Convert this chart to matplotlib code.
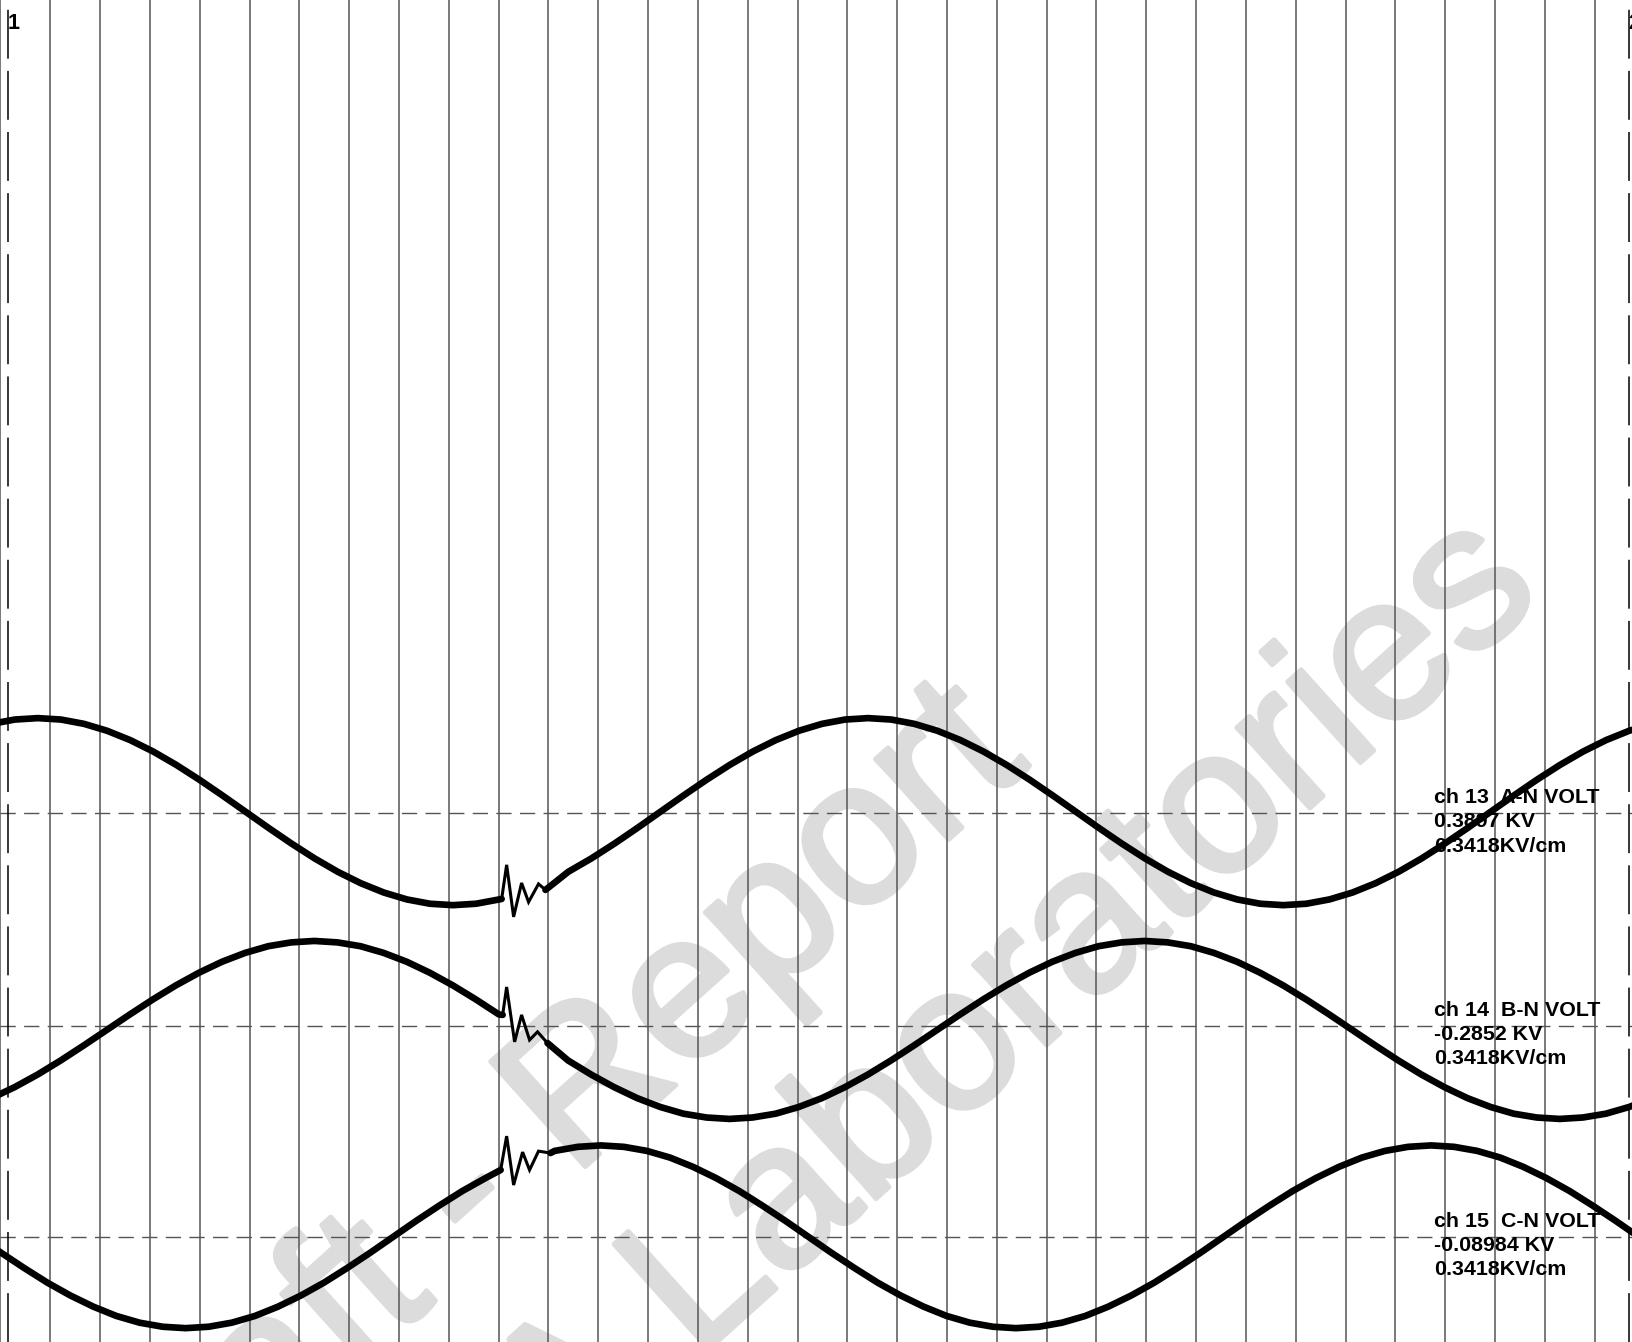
import numpy as np
import matplotlib
matplotlib.use("Agg")
import matplotlib.pyplot as plt
import matplotlib.patheffects as pe

# ---------------- data ----------------
period_ms = 16.667            # 60 Hz
step_ms = period_ms / 36      # one sample every 10 degrees

ch_names = ["ch 13  A-N VOLT", "ch 14  B-N VOLT", "ch 15  C-N VOLT"]
ch_values = ["0.3897 KV", "-0.2852 KV", "-0.08984 KV"]
ch_scales = ["0.3418KV/cm", "0.3418KV/cm", "0.3418KV/cm"]
baselines_kv = [0.0, -0.890, -1.775]

cursor_t = [0.147, 32.68]
cursor_labels = ["1", "2"]

# smooth parts (kV), sampled every step_ms starting at first_t
a_first_t = -0.176
a_vals = [0.375, 0.393, 0.399, 0.393, 0.375, 0.346, 0.307, 0.259, 0.203, 0.141,
          0.075, 0.007, -0.061, -0.127, -0.189, -0.245, -0.293, -0.332, -0.361, -0.379,
          -0.385, -0.379, -0.361, -0.332, -0.293, -0.245, -0.189, -0.127, -0.061, 0.007,
          0.075, 0.141, 0.203, 0.259, 0.307, 0.346, 0.375, 0.393, 0.399, 0.393,
          0.375, 0.346, 0.307, 0.259, 0.203, 0.141, 0.075, 0.007, -0.061, -0.127,
          -0.189, -0.245, -0.293, -0.332, -0.361, -0.379, -0.385, -0.379, -0.361, -0.332,
          -0.293, -0.245, -0.189, -0.127, -0.061, 0.007, 0.075, 0.141, 0.203, 0.259,
          0.307, 0.346, 0.375]

b_first_t = -0.181
b_vals = [-1.194, -1.148, -1.095, -1.036, -0.973, -0.908, -0.843, -0.780, -0.721, -0.668,
          -0.622, -0.585, -0.557, -0.541, -0.535, -0.541, -0.557, -0.585, -0.622, -0.668,
          -0.721, -0.780, -0.843, -0.908, -0.973, -1.036, -1.095, -1.148, -1.194, -1.231,
          -1.259, -1.275, -1.281, -1.275, -1.259, -1.231, -1.194, -1.148, -1.095, -1.036,
          -0.973, -0.908, -0.843, -0.780, -0.721, -0.668, -0.622, -0.585, -0.557, -0.541,
          -0.535, -0.541, -0.557, -0.585, -0.622, -0.668, -0.721, -0.780, -0.843, -0.908,
          -0.973, -1.036, -1.095, -1.148, -1.194, -1.231, -1.259, -1.275, -1.281, -1.275,
          -1.259, -1.231, -1.194]

c_first_t = -0.450
c_vals = [-1.775, -1.842, -1.906, -1.967, -2.021, -2.068, -2.107, -2.135, -2.152, -2.158,
          -2.152, -2.135, -2.107, -2.068, -2.021, -1.967, -1.906, -1.842, -1.775, -1.708,
          -1.644, -1.583, -1.529, -1.482, -1.443, -1.415, -1.398, -1.392, -1.398, -1.415,
          -1.443, -1.482, -1.529, -1.583, -1.644, -1.708, -1.775, -1.842, -1.906, -1.967,
          -2.021, -2.068, -2.107, -2.135, -2.152, -2.158, -2.152, -2.135, -2.107, -2.068,
          -2.021, -1.967, -1.906, -1.842, -1.775, -1.708, -1.644, -1.583, -1.529, -1.482,
          -1.443, -1.415, -1.398, -1.392, -1.398, -1.415, -1.443, -1.482, -1.529, -1.583,
          -1.644, -1.708, -1.775]

# switching transient (ms, kV)
a_tr_t = [10.06, 10.16, 10.30, 10.46, 10.60, 10.80, 10.94]
a_tr_v = [-0.359, -0.216, -0.434, -0.292, -0.372, -0.296, -0.321]
b_tr_t = [10.08, 10.16, 10.32, 10.46, 10.62, 10.78, 10.98]
b_tr_v = [-0.845, -0.728, -0.958, -0.845, -0.950, -0.916, -0.963]
c_tr_t = [10.04, 10.16, 10.30, 10.48, 10.62, 10.80, 11.04]
c_tr_v = [-1.495, -1.353, -1.558, -1.420, -1.495, -1.416, -1.424]

watermark_lines = ["Draft - Report", "A Laboratories"]

# ---------------- figure ----------------
fig = plt.figure(figsize=(16.32, 13.42), dpi=100)
ax = fig.add_axes([0, 0, 1, 1])
ax.set_xlim(-0.01, 32.75)
ax.set_ylim(-2.216, 3.409)
for s in ax.spines.values():
    s.set_visible(False)
ax.set_xticks(np.arange(0, 33, 1))
ax.set_yticks([])
ax.tick_params(length=0, labelbottom=False, labelleft=False)
ax.set_axisbelow(True)
ax.grid(axis="x", color="#555555", linewidth=1.1)

# watermark
wm_pos = [(0.632, 0.430), (0.947, 0.556)]
for txt, (px, py) in zip(watermark_lines, wm_pos):
    ax.text(px, py, txt, transform=ax.transAxes, rotation=42, rotation_mode="anchor",
            ha="right", va="baseline", fontsize=148, color="#dcdcdc",
            family="Liberation Sans", zorder=0.1,
            path_effects=[pe.withStroke(linewidth=3.5, foreground="#dcdcdc")])

# channel zero lines
for b in baselines_kv:
    ax.axhline(b, color="#555555", linewidth=1.0, linestyle=(0, (11, 6)), zorder=1)

# cursors
for ct, lab in zip(cursor_t, cursor_labels):
    ax.axvline(ct, color="black", linewidth=1.1, linestyle=(0, (32, 8)), zorder=1.5)
    ax.annotate(lab, xy=(ct, 1), xycoords=("data", "axes fraction"),
                xytext=(-0.5, -29), textcoords="offset pixels",
                ha="left", va="baseline", fontsize=15.5, fontweight="bold",
                family="Liberation Sans", zorder=3)

# channel labels
for b, n, v, sc in zip(baselines_kv, ch_names, ch_values, ch_scales):
    for txt, dy in zip([n, v, sc], [10, -14, -38.5]):
        ax.annotate(txt, xy=(28.77, b), xytext=(0, dy), textcoords="offset pixels",
                    ha="left", va="baseline", fontsize=15.4, fontweight="bold",
                    family="Liberation Sans", zorder=2)

# traces
thick = 4.8
thin = 2.2
for first_t, vals, tr_t, tr_v in [(a_first_t, a_vals, a_tr_t, a_tr_v),
                                   (b_first_t, b_vals, b_tr_t, b_tr_v),
                                   (c_first_t, c_vals, c_tr_t, c_tr_v)]:
    t = first_t + np.arange(len(vals)) * step_ms
    v = np.array(vals)
    tr_t = np.array(tr_t)
    tr_v = np.array(tr_v)
    pre = t < tr_t[0] - 0.02
    post = t > tr_t[-1] + 0.05
    ax.plot(np.append(t[pre], tr_t[0]), np.append(v[pre], tr_v[0]),
            color="black", linewidth=thick, solid_joinstyle="round",
            solid_capstyle="round", zorder=4)
    ax.plot(tr_t, tr_v, color="black", linewidth=thin, solid_joinstyle="miter",
            zorder=4)
    ax.plot(np.insert(t[post], 0, tr_t[-1]), np.insert(v[post], 0, tr_v[-1]),
            color="black", linewidth=thick, solid_joinstyle="round",
            solid_capstyle="round", zorder=4)

fig.savefig("out.png", dpi=100)
